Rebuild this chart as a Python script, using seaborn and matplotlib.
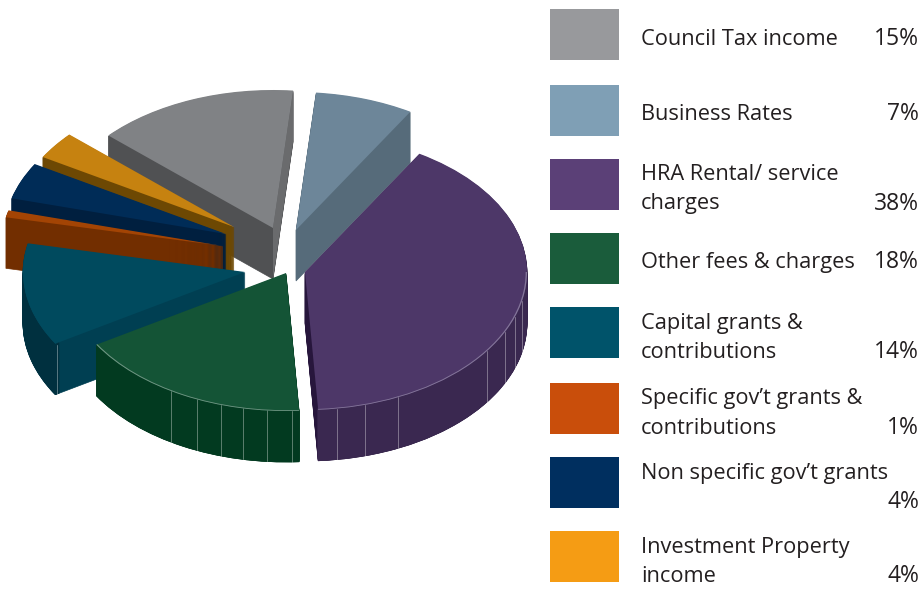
import numpy as np
import matplotlib
matplotlib.use("Agg")
import matplotlib.pyplot as plt
import seaborn as sns

# clockwise from the top-left edge of the council tax slice
categories = ["Council Tax income", "Business Rates", "HRA Rental/ service\ncharges",
              "Other fees & charges", "Capital grants &\ncontributions",
              "Specific gov’t grants &\ncontributions", "Non specific gov’t grants\n",
              "Investment Property\nincome"]
percent_labels = ["15%", "7%", "38%", "18%", "14%", "1%", "4%", "4%"]
# slice sizes as drawn in the picture, close to the printed percents
slice_sizes = [14.75, 7.17, 40.44, 17.25, 12.03, 0.83, 4.3, 3.23]

swatch_colors = ["#98999c", "#7f9fb5", "#5b4077", "#1a5c3b", "#00536a", "#c94e0b", "#002f5f", "#f59c14"]
top_colors = ["#808285", "#6d8699", "#4d3768", "#145436", "#004a5e", "#a34404", "#002c57", "#c68210"]
wall_colors = ["#505153", "#566b7a", "#27163c", "#023a20", "#003f52", "#722e00", "#001f3f", "#6d4803"]
rim_colors = ["#505153", "#566b7a", "#3a2850", "#023a20", "#00303f", "#722e00", "#001f3f", "#6d4803"]
edge_light = ["#808285", "#6d8699", "#84769a", "#6f9583", "#004a5e", "#a34404", "#002c57", "#c68210"]

W, H = 921, 590
RX, RY = 222, 138
DEPTH = 51
START = 137.9

# apex of every slice in picture pixels
apex_x = [273, 296, 305, 286, 245, 223, 226, 234]
apex_y = [228, 230, 272, 273, 272, 246, 234, 227]
# paint order, back to front
paint_rank = [1, 0, 7, 6, 5, 4, 3, 2]

# seams in the curved walls: slice index, pixel x
seams = [(2, 337), (2, 365), (2, 398), (2, 487), (2, 505), (2, 515), (2, 522),
         (3, 171), (3, 197), (3, 221), (3, 243), (3, 267), (3, 292), (4, 57)]

swatch_top = [9, 85, 159, 233, 307, 383, 457, 531]
baselines = [45, 120, 180, 268, 329, 404, 479, 553]
LINE = 29.5

sns.set_theme(style="white")
plt.rcParams["font.family"] = ["Open Sans", "DejaVu Sans"]

fig = plt.figure(figsize=(W / 100, H / 100), dpi=100)
ax = fig.add_axes([0, 0, 1, 1])


def px(x, y):
    return x / RX, (H - y) / RY


def front_only(wedge):
    # the curved wall only shows on the lower half of the ellipse
    t1, t2 = max(wedge.theta1, -180), min(wedge.theta2, 0)
    if t2 <= t1:
        wedge.set_visible(False)
    else:
        wedge.set_theta1(t1)
        wedge.set_theta2(t2)


def draw_layer(colors, drop, z, width=None, front=False, seal=True):
    props = {"linewidth": 0}
    if width:
        props["width"] = width
    wedges, _ = ax.pie(slice_sizes, colors=colors, startangle=START, counterclock=False,
                       wedgeprops=props)
    for i, w in enumerate(wedges):
        w.set_center(px(apex_x[i], apex_y[i] + drop))
        w.set_zorder(paint_rank[i] * 1000 + z)
        if seal:
            # same colour outline, hides the hairlines between stacked layers
            w.set_edgecolor(w.get_facecolor())
            w.set_linewidth(0.5)
        if front:
            front_only(w)
    return wedges


for d in range(DEPTH, 0, -1):
    draw_layer(wall_colors, d, DEPTH - d)
    # curved wall sits above every cut face layer
    draw_layer(rim_colors, d, 100 + DEPTH - d, width=0.02, front=True)
top = draw_layer(sns.color_palette(top_colors), 0, 900, seal=False)
draw_layer(edge_light, 0, 950, width=0.006, front=True, seal=False)

# right hand cut face of the council tax slice catches more light
t = np.radians(top[0].theta1)
rim_x, rim_y = apex_x[0] + RX * np.cos(t), apex_y[0] - RY * np.sin(t)
corners = [px(apex_x[0], apex_y[0]), px(rim_x, rim_y), px(rim_x, rim_y + DEPTH), px(apex_x[0], apex_y[0] + DEPTH)]
ax.fill(*zip(*corners), color="#6a6b6d", lw=0, zorder=paint_rank[0] * 1000 + 850)

for i, x in seams:
    dx = (x - apex_x[i]) / RX
    y = apex_y[i] + RY * np.sqrt(1 - dx ** 2)
    x0, y0 = px(x, y)
    x1, y1 = px(x, y + DEPTH)
    ax.plot([x0, x1], [y0, y1], color="#ffffff", alpha=0.35, lw=0.7,
            zorder=paint_rank[i] * 1000 + 800)

ax.set_aspect("auto")
ax.set_xlim(0, W / RX)
ax.set_ylim(0, H / RY)
ax.axis("off")

# legend on top, in pixels
leg = fig.add_axes([0, 0, 1, 1])
leg.patch.set_alpha(0)
leg.barh([t + 25.5 for t in swatch_top], [69] * 8, height=51, left=550, color=swatch_colors, linewidth=0)
leg.set_xlim(0, W)
leg.set_ylim(H, 0)
leg.axis("off")

for name, pct, base in zip(categories, percent_labels, baselines):
    lines = name.split("\n")
    for k, line in enumerate(lines):
        leg.text(641, base + k * LINE, line, fontsize=15.7, color="#231f20", va="baseline", ha="left")
    leg.text(919, base + (len(lines) - 1) * LINE, pct, fontsize=16.5, color="#231f20",
             va="baseline", ha="right")

fig.savefig("out.png", dpi=100)
